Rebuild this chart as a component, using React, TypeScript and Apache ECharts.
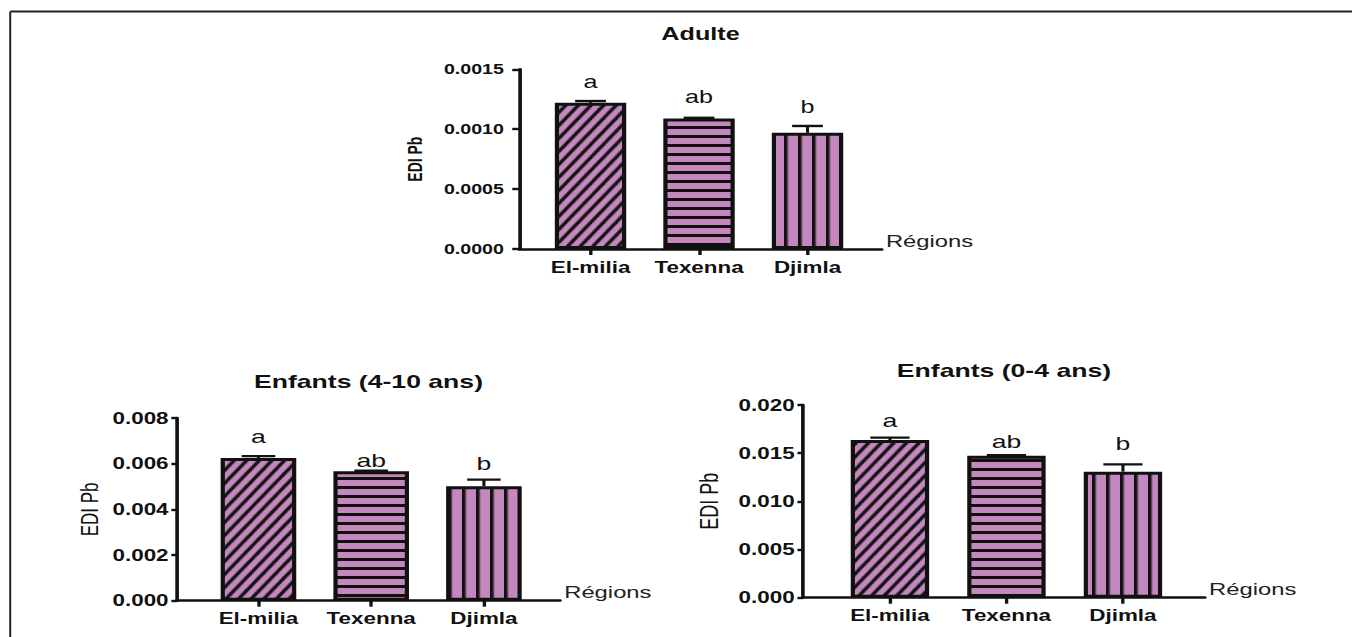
import React, { useEffect, useRef } from 'react';
import * as echarts from 'echarts';

// ---------- data ----------
const regions = ['El-milia', 'Texenna', 'Djimla'];
const xAxisName = 'Régions';
const yAxisName = 'EDI Pb';

const adultTitle = 'Adulte';
const adultMeans = [0.00122, 0.00109, 0.00097];
const adultErrors = [0.000015, 0.000005, 0.000057];
const adultLetters = ['a', 'ab', 'b'];
const adultLetterY = [0.001397, 0.001271, 0.001188];
const adultTicks = [0, 0.0005, 0.001, 0.0015];

const child410Title = 'Enfants (4-10 ans)';
const child410Means = [0.00625, 0.00567, 0.00501];
const child410Errors = [0.00008, 0.00002, 0.00029];
const child410Letters = ['a', 'ab', 'b'];
const child410LetterY = [0.00719, 0.00614, 0.00602];
const child410Ticks = [0, 0.002, 0.004, 0.006, 0.008];

const child04Title = 'Enfants (0-4 ans)';
const child04Means = [0.01637, 0.01474, 0.01308];
const child04Errors = [0.00024, 0.00005, 0.00076];
const child04Letters = ['a', 'ab', 'b'];
const child04LetterY = [0.01844, 0.0162, 0.016];
const child04Ticks = [0, 0.005, 0.01, 0.015, 0.02];

// ---------- layout (the original figure is stretched horizontally) ----------
const S = 1.4;
const W = 1352;
const H = 637;
const UW = W / S;
const FONT = 'Arial, "Liberation Sans", Helvetica, sans-serif';
const PINK = '#c488be';
const INK = '#111111';

const panels = [
  {
    title: adultTitle, means: adultMeans, errors: adultErrors, letters: adultLetters, letterY: adultLetterY,
    ticks: adultTicks, decimals: 4,
    grid: { left: 370.9, top: 69.3, width: 258.9, height: 179.7 },
    xMin: -0.657, xMax: 2.684, barWidth: 51, capHalf: 11,
    tickFont: 14, tickLen: 5, tickMargin: 11,
    nameFont: 14, nameBold: true, nameGap: 67,
    titleFont: 18, titleTop: 24.5, letterFont: 18,
  },
  {
    title: child410Title, means: child410Means, errors: child410Errors, letters: child410Letters, letterY: child410LetterY,
    ticks: child410Ticks, decimals: 3,
    grid: { left: 126.4, top: 418, width: 273.6, height: 182.7 },
    xMin: -0.723, xMax: 2.675, barWidth: 54, capHalf: 12,
    tickFont: 16, tickLen: 4, tickMargin: 6,
    nameFont: 17, nameBold: false, nameGap: 54,
    titleFont: 19, titleTop: 372, letterFont: 19,
  },
  {
    title: child04Title, means: child04Means, errors: child04Errors, letters: child04Letters, letterY: child04LetterY,
    ticks: child04Ticks, decimals: 3,
    grid: { left: 573.6, top: 405, width: 287, height: 192.7 },
    xMin: -0.746, xMax: 2.703, barWidth: 56, capHalf: 14,
    tickFont: 16, tickLen: 4, tickMargin: 6,
    nameFont: 18, nameBold: false, nameGap: 58,
    titleFont: 19, titleTop: 360.5, letterFont: 19,
  },
];

function makePattern(kind: string): HTMLCanvasElement {
  const c = document.createElement('canvas');
  let w = 8, h = 8;
  if (kind === 'h') { w = 8; h = 9; }
  if (kind === 'v') { w = 10; h = 8; }
  if (kind === 'd') { w = 9; h = 13; }
  c.width = w; c.height = h;
  const ctx = c.getContext('2d')!;
  ctx.fillStyle = PINK;
  ctx.fillRect(0, 0, w, h);
  ctx.fillStyle = INK;
  ctx.strokeStyle = INK;
  if (kind === 'h') ctx.fillRect(0, 0, w, 3);
  if (kind === 'v') ctx.fillRect(0, 0, 2.6, h);
  if (kind === 'd') {
    ctx.lineWidth = 2.8;
    for (const k of [-1, 0, 1]) {
      ctx.beginPath();
      ctx.moveTo(-w + k * w, 2 * h);
      ctx.lineTo(2 * w + k * w, -h);
      ctx.stroke();
    }
  }
  return c;
}

export default function App() {
  const ref = useRef<HTMLDivElement>(null);

  useEffect(() => {
    if (!ref.current) return;
    const chart = echarts.init(ref.current, null, { renderer: 'svg' });
    const patterns = [makePattern('d'), makePattern('h'), makePattern('v')];

    const grids: any[] = [];
    const xAxes: any[] = [];
    const yAxes: any[] = [];
    const series: any[] = [];
    const titles: any[] = [];

    panels.forEach((p, gi) => {
      grids.push({ ...p.grid, containLabel: false });
      titles.push({
        text: p.title,
        left: p.grid.left + p.grid.width / 2,
        top: p.titleTop,
        textAlign: 'center',
        padding: 0,
        textStyle: { fontFamily: FONT, fontSize: p.titleFont, fontWeight: 'bold', color: INK, lineHeight: p.titleFont },
      });
      xAxes.push({
        type: 'value',
        gridIndex: gi,
        min: p.xMin,
        max: p.xMax,
        name: xAxisName,
        nameLocation: 'end',
        nameGap: 3,
        nameTextStyle: { fontFamily: FONT, fontSize: 17, color: '#222', verticalAlign: 'bottom', align: 'left', lineHeight: 17 },
        axisLine: { show: true, onZero: false, lineStyle: { color: INK, width: 2.6 } },
        axisTick: { show: true, customValues: [0, 1, 2], length: 6, lineStyle: { color: INK, width: 2.4 } },
        axisLabel: {
          show: true,
          customValues: [0, 1, 2],
          margin: 10,
          fontFamily: FONT,
          fontSize: 16,
          fontWeight: 'bold',
          color: INK,
          formatter: (v: number) => regions[Math.round(v)] ?? '',
        },
        splitLine: { show: false },
      });
      const t = p.ticks;
      yAxes.push({
        type: 'value',
        gridIndex: gi,
        min: t[0],
        max: t[t.length - 1],
        interval: t[1] - t[0],
        name: yAxisName,
        nameLocation: 'middle',
        nameRotate: 90,
        nameGap: p.nameGap,
        nameTextStyle: { fontFamily: FONT, fontSize: p.nameFont, fontWeight: p.nameBold ? 'bold' : 'normal', color: INK },
        axisLine: { show: true, onZero: false, lineStyle: { color: INK, width: 2.6 } },
        axisTick: { show: true, length: p.tickLen, lineStyle: { color: INK, width: 2.4 } },
        axisLabel: {
          margin: p.tickMargin,
          fontFamily: FONT,
          fontSize: p.tickFont,
          fontWeight: 'bold',
          color: INK,
          formatter: (v: number) => v.toFixed(p.decimals),
        },
        splitLine: { show: false },
      });
      series.push({
        type: 'bar',
        xAxisIndex: gi,
        yAxisIndex: gi,
        barWidth: p.barWidth,
        data: p.means.map((m, i) => ({
          value: [i, m],
          itemStyle: { color: { image: patterns[i], repeat: 'repeat' }, borderColor: INK, borderWidth: 3 },
        })),
        z: 2,
      });
      series.push({
        type: 'custom',
        xAxisIndex: gi,
        yAxisIndex: gi,
        z: 5,
        data: p.means.map((m, i) => [i, m, p.errors[i], p.letterY[i]]),
        renderItem: (params: any, api: any) => {
          const i = api.value(0);
          const m = api.value(1);
          const e = api.value(2);
          const ly = api.value(3);
          const p0 = api.coord([i, m]);
          const p1 = api.coord([i, m + e]);
          const pl = api.coord([i, ly]);
          return {
            type: 'group',
            children: [
              { type: 'line', shape: { x1: p0[0], y1: p0[1], x2: p1[0], y2: p1[1] }, style: { stroke: INK, lineWidth: 2.2 } },
              { type: 'line', shape: { x1: p1[0] - p.capHalf, y1: p1[1], x2: p1[0] + p.capHalf, y2: p1[1] }, style: { stroke: INK, lineWidth: 2.4 } },
              {
                type: 'text',
                x: pl[0],
                y: pl[1],
                style: {
                  text: p.letters[params.dataIndex],
                  fill: INK,
                  font: `${p.letterFont}px ${FONT}`,
                  align: 'center',
                  verticalAlign: 'middle',
                },
              },
            ],
          };
        },
      });
    });

    chart.setOption({
      animation: false,
      backgroundColor: '#ffffff',
      title: titles,
      grid: grids,
      xAxis: xAxes,
      yAxis: yAxes,
      series,
      graphic: [
        { type: 'line', shape: { x1: 7.3, y1: 11.5, x2: UW + 5, y2: 11.5 }, style: { stroke: '#222', lineWidth: 2.2 }, silent: true },
        { type: 'line', shape: { x1: 7.3, y1: 11.5, x2: 7.3, y2: H + 5 }, style: { stroke: '#222', lineWidth: 1.4 }, silent: true },
      ],
    });

    return () => chart.dispose();
  }, []);

  return (
    <div
      style={{
        position: 'absolute',
        left: 0,
        top: 0,
        width: W,
        height: H,
        overflow: 'hidden',
        background: '#fff',
      }}
    >
      <div
        ref={ref}
        style={{
          width: UW,
          height: H,
          transform: `scaleX(${S})`,
          transformOrigin: '0 0',
        }}
      />
    </div>
  );
}
